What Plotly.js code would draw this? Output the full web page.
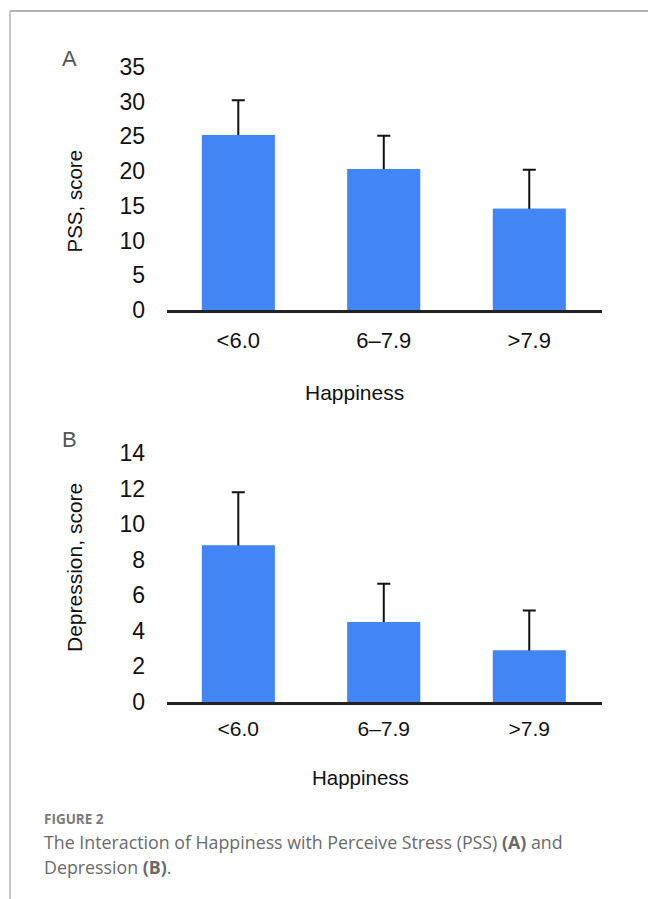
<!DOCTYPE html>
<html>
<head>
<meta charset="utf-8">
<script src="https://cdn.plot.ly/plotly-3.0.1.min.js"></script>
<style>
html,body{margin:0;padding:0;background:#fff;}
#chart{width:648px;height:899px;}
</style>
</head>
<body>
<div id="chart"></div>
<script>
// ---- data ----
const categories = ["<6.0", "6–7.9", ">7.9"];
const pssMean = [25.2, 20.3, 14.6];
const pssSD = [5.0, 4.8, 5.6];
const depMean = [8.8, 4.5, 2.9];
const depSD = [3.0, 2.15, 2.25];
const pssTicks = [0, 5, 10, 15, 20, 25, 30, 35];
const depTicks = [0, 2, 4, 6, 8, 10, 12, 14];
const xTitle = "Happiness";
const pssTitle = "PSS, score";
const depTitle = "Depression, score";
const captionLabel = "FIGURE 2";
const captionLine1 = "The Interaction of Happiness with Perceive Stress (PSS) <b>(A)</b> and";
const captionLine2 = "Depression <b>(B)</b>.";

const W = 648, H = 899;
const px = v => v / W;
const py = v => 1 - v / H;

const barColor = "#4285F4";
const axisFont = "Arial, 'Liberation Sans', sans-serif";

// error bar layer: bar drawn underneath, whiskers reach down to 0 (hidden by the cover bar)
function errTrace(y, err, xa, ya) {
  return {
    type: "bar", x: categories, y: y, xaxis: xa, yaxis: ya, width: 0.5,
    marker: {color: barColor, line: {width: 0}},
    error_y: {type: "data", symmetric: false, array: err, arrayminus: y,
              color: "#111", thickness: 2, width: 6.5},
    hoverinfo: "skip", showlegend: false
  };
}
// visible bars on top
function barTrace(y, xa, ya) {
  return {
    type: "bar", x: categories, y: y, xaxis: xa, yaxis: ya, width: 0.5,
    marker: {color: barColor, line: {width: 0}},
    hoverinfo: "x+y", showlegend: false
  };
}

const data = [
  errTrace(pssMean, pssSD, "x", "y"),
  barTrace(pssMean, "x", "y"),
  errTrace(depMean, depSD, "x2", "y2"),
  barTrace(depMean, "x2", "y2")
];

function xAxis(anchor, size, standoff) {
  return {
    anchor: anchor,
    domain: [px(167), px(602)],
    range: [-0.49, 2.5],
    type: "category",
    showline: true, linecolor: "#222", linewidth: 2.5,
    showgrid: false, zeroline: false, ticks: "",
    ticklabelstandoff: standoff,
    tickfont: {family: axisFont, size: size, color: "#111"},
    automargin: false,
    fixedrange: true
  };
}
function yAxis(anchor, dom, range, ticks) {
  return {
    anchor: anchor,
    domain: dom,
    range: range,
    tickvals: ticks,
    ticktext: ticks.map(String),
    showline: false, showgrid: false, zeroline: false, ticks: "",
    ticklabelstandoff: 21,
    tickfont: {family: axisFont, size: 23, color: "#111"},
    automargin: false,
    fixedrange: true
  };
}

function label(text, x, y, size, opts) {
  return Object.assign({text: text, xref: "paper", yref: "paper", x: px(x), y: py(y),
    xanchor: "center", yanchor: "middle", showarrow: false,
    font: {family: axisFont, size: size, color: "#111"}}, opts || {});
}

const borderColor = "#b3b3b3";
const captionFont = "'Open Sans', 'Noto Sans', sans-serif";
const layout = {
  width: W, height: H,
  margin: {l: 0, r: 0, t: 0, b: 0},
  paper_bgcolor: "#fff", plot_bgcolor: "#fff",
  barmode: "overlay",
  xaxis: xAxis("y", 22, 9),
  yaxis: yAxis("x", [py(310), py(67)], [0, 35], pssTicks),
  xaxis2: xAxis("y2", 21, 6),
  yaxis2: yAxis("x2", [py(702), py(453)], [0, 14], depTicks),
  shapes: [
    {type: "line", xref: "paper", yref: "paper", x0: px(10), x1: 1, y0: py(11), y1: py(11),
     line: {color: borderColor, width: 2}},
    {type: "line", xref: "paper", yref: "paper", x0: px(10), x1: px(10), y0: py(11), y1: 0,
     line: {color: borderColor, width: 1.5}}
  ],
  annotations: [
    // axis titles
    label(xTitle, 354, 392, 21),
    label(xTitle, 360, 777, 20.5),
    label(pssTitle, 74, 201.5, 20.5, {textangle: -90}),
    label(depTitle, 74, 568, 21, {textangle: -90}),
    // panel letters
    label("A", 69.5, 59, 22, {font: {family: axisFont, size: 22, color: "#555"}}),
    label("B", 69.5, 440, 22, {font: {family: axisFont, size: 22, color: "#555"}}),
    // caption
    {text: "<b>" + captionLabel + "</b>", xref: "paper", yref: "paper", x: px(42), y: py(819),
     xanchor: "left", yanchor: "middle", showarrow: false,
     font: {family: captionFont, size: 13.5, color: "#7a7a7a"}},
    {text: captionLine1, xref: "paper", yref: "paper", x: px(42), y: py(842),
     xanchor: "left", yanchor: "middle", showarrow: false,
     font: {family: captionFont, size: 17.8, color: "#6a6a6a"}},
    {text: captionLine2, xref: "paper", yref: "paper", x: px(42), y: py(867),
     xanchor: "left", yanchor: "middle", showarrow: false,
     font: {family: captionFont, size: 17.8, color: "#6a6a6a"}}
  ]
};

Plotly.newPlot("chart", data, layout, {staticPlot: true, displayModeBar: false});
</script>
</body>
</html>
